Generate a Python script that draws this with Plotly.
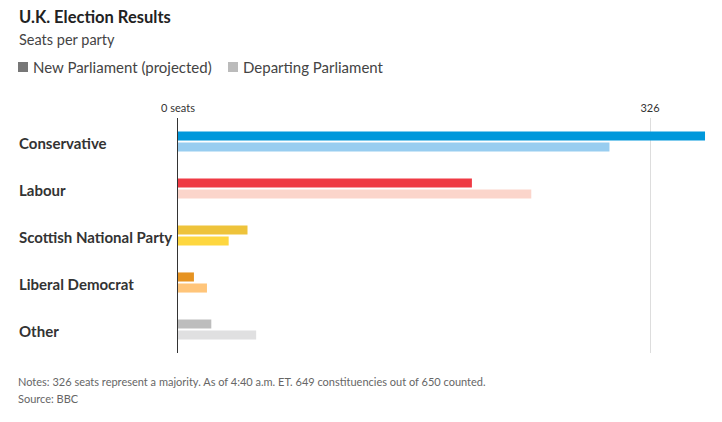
import plotly.graph_objects as go

parties = ["Conservative", "Labour", "Scottish National Party", "Liberal Democrat", "Other"]
new_seats = [364, 203, 48, 11, 23]
departing_seats = [298, 244, 35, 20, 54]
new_colors = ["#0098db", "#ef3a44", "#eec33b", "#e69322", "#bdbdbd"]
departing_colors = ["#98cdf0", "#fbd5cb", "#fed73f", "#ffc57a", "#e0e0e1"]
tick_vals = [0, 326]
tick_text = ["0 seats", "326"]

W, H = 722, 422
ML, MR, MT, MB = 178, 16, 118, 69
PW, PH = W - ML - MR, H - MT - MB
FONT = "Lato"


def px(x):
    return (x - ML) / PW


def py(y):
    return (H - MB - y) / PH


fig = go.Figure()
fig.add_trace(go.Bar(y=parties, x=new_seats, orientation="h",
                     marker=dict(color=new_colors, line=dict(width=0)),
                     name="New Parliament (projected)", showlegend=False,
                     hoverinfo="x+y"))
fig.add_trace(go.Bar(y=parties, x=departing_seats, orientation="h",
                     marker=dict(color=departing_colors, line=dict(width=0)),
                     name="Departing Parliament", showlegend=False,
                     hoverinfo="x+y"))

ann = []
ann.append(dict(text="<b>U.K. Election Results</b>", x=px(17), y=py(17), xref="paper", yref="paper",
                xanchor="left", yanchor="middle", showarrow=False,
                font=dict(family=FONT, size=16.5, color="#222")))
ann.append(dict(text="Seats per party", x=px(17), y=py(39), xref="paper", yref="paper",
                xanchor="left", yanchor="middle", showarrow=False,
                font=dict(family=FONT, size=14.5, color="#444")))
ann.append(dict(text="New Parliament (projected)", x=px(31), y=py(67), xref="paper", yref="paper",
                xanchor="left", yanchor="middle", showarrow=False,
                font=dict(family=FONT, size=15, color="#444")))
ann.append(dict(text="Departing Parliament", x=px(241), y=py(67), xref="paper", yref="paper",
                xanchor="left", yanchor="middle", showarrow=False,
                font=dict(family=FONT, size=15, color="#444")))
for p in parties:
    ann.append(dict(text="<b>%s</b>" % p, x=px(17), y=p, xref="paper", yref="y",
                    xanchor="left", yanchor="middle", yshift=-1, showarrow=False,
                    font=dict(family=FONT, size=15, color="#333")))
ann.append(dict(text="Notes: 326 seats represent a majority. As of 4:40 a.m. ET. 649 constituencies out of 650 counted.",
                x=px(16), y=py(381), xref="paper", yref="paper",
                xanchor="left", yanchor="middle", showarrow=False,
                font=dict(family=FONT, size=11, color="#666")))
ann.append(dict(text="Source: BBC", x=px(16), y=py(398), xref="paper", yref="paper",
                xanchor="left", yanchor="middle", showarrow=False,
                font=dict(family=FONT, size=11, color="#666")))

shapes = [
    dict(type="rect", xref="paper", yref="paper", x0=px(18), x1=px(28), y0=py(62), y1=py(72),
         fillcolor="#777777", line=dict(width=0)),
    dict(type="rect", xref="paper", yref="paper", x0=px(228), x1=px(238), y0=py(62), y1=py(72),
         fillcolor="#bbbbbb", line=dict(width=0)),
]

fig.update_layout(
    width=W, height=H,
    margin=dict(l=ML, r=MR, t=MT, b=MB),
    paper_bgcolor="white", plot_bgcolor="white",
    barmode="group", bargap=0.53, bargroupgap=0.18,
    showlegend=False,
    annotations=ann, shapes=shapes,
    font=dict(family=FONT),
    xaxis=dict(range=[0, PW / (472 / 326)], side="top", tickvals=tick_vals, ticktext=tick_text,
               showgrid=True, gridcolor="#dddddd", gridwidth=1, zeroline=False,
               showline=False, ticks="", ticklabelstandoff=3,
               tickfont=dict(family=FONT, size=11, color="#333"),
               fixedrange=True),
    yaxis=dict(categoryorder="array", categoryarray=parties, autorange="reversed",
               showticklabels=False, showgrid=False, zeroline=False, ticks="",
               showline=True, linecolor="#333333", linewidth=1.2, fixedrange=True),
)

fig.write_html("out.html", config={"displayModeBar": False},
               post_script="document.body.style.margin='0';document.body.style.overflow='hidden';")
